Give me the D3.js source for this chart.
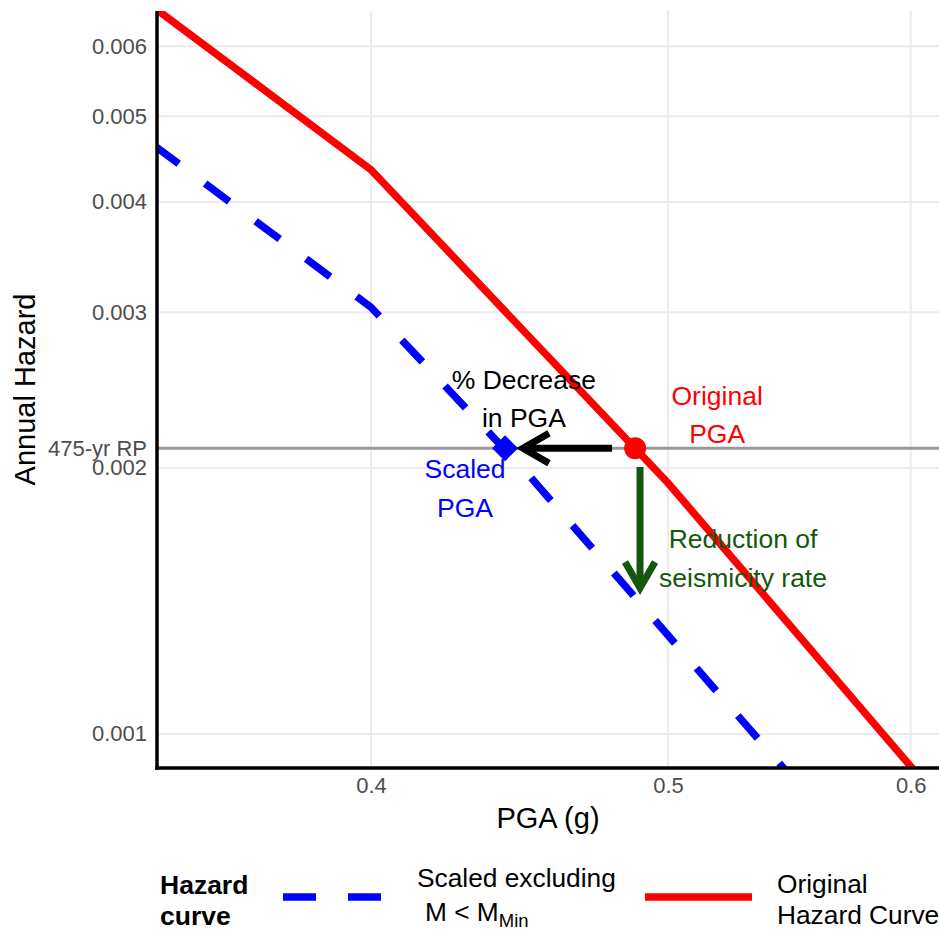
<!DOCTYPE html>
<html>
<head>
<meta charset="utf-8">
<script src="https://cdn.jsdelivr.net/npm/d3@7"></script>
<style>
  body { margin: 0; background: #fff; }
  svg text { font-family: "Liberation Sans", Arial, sans-serif; }
</style>
</head>
<body>
<svg id="chart"></svg>
<script>

// hazard curves (PGA in g, annual hazard)
const pgaLevels = [0.34, 0.4, 0.45, 0.5, 0.6, 0.62];
const originalHazard = [0.00663, 0.00435, 0.002826, 0.001923, 0.000919, 0.000805];
const scaledHazard = [0.00463, 0.00304, 0.001969, 0.001293, 0.000625, 0.000548];

// axis breaks
const xTicks = [0.4, 0.5, 0.6];
const yTicks = [0.001, 0.002, 0.003, 0.004, 0.005, 0.006];
const rpHazard = 1 / 475;
const rpLabel = "475-yr RP";

// points on the 475-yr line
const originalPGA = 0.4878;
const scaledPGA = 0.4424;

// arrows: [x1, y1, x2, y2] in data units
const decreaseArrow = [0.4794, rpHazard, 0.4484, rpHazard];
const rateArrow = [0.4896, 0.002005, 0.4896, 0.001463];

// annotations: two lines each, centred on (x, y)
const notes = [
	{lines: ["% Decrease", "in PGA"], x: 0.4487, y: 0.002397, color: "#000000"},
	{lines: ["Original", "PGA"], x: 0.5188, y: 0.002299, color: "#ff0000"},
	{lines: ["Scaled", "PGA"], x: 0.4293, y: 0.001898, color: "#0000ff"},
	{lines: ["Reduction of", "seismicity rate"], x: 0.5290, y: 0.001582, color: "#15570d"}
];

var width = 939;
var height = 932;
var panel = {left: 157, right: 939, top: 11, bottom: 768};

var svg = d3.select("#chart")
	.attr("width", width)
	.attr("height", height);

var x = d3.scaleLog()
	.domain([0.3406, 0.6129])
	.range([panel.left, panel.right]);

var y = d3.scaleLog()
	.domain([0.000915, 0.006579])
	.range([panel.bottom, panel.top]);

svg.append("defs").append("clipPath")
	.attr("id", "panel-clip")
	.append("rect")
	.attr("x", panel.left)
	.attr("y", panel.top)
	.attr("width", panel.right - panel.left)
	.attr("height", panel.bottom - panel.top);

// grid lines
var grid = svg.append("g").attr("stroke", "#ebebeb").attr("stroke-width", 2);
grid.selectAll("line.gx")
	.data(xTicks)
	.enter().append("line")
	.attr("x1", d => x(d)).attr("x2", d => x(d))
	.attr("y1", panel.top).attr("y2", panel.bottom);
grid.selectAll("line.gy")
	.data(yTicks)
	.enter().append("line")
	.attr("x1", panel.left).attr("x2", panel.right)
	.attr("y1", d => y(d)).attr("y2", d => y(d));

// 475-yr return period line
svg.append("line")
	.attr("x1", panel.left).attr("x2", panel.right)
	.attr("y1", y(rpHazard)).attr("y2", y(rpHazard))
	.attr("stroke", "#999999")
	.attr("stroke-width", 3);

// axes (labels only, the axis lines are drawn below)
var yAxis = svg.append("g")
	.attr("transform", "translate(" + panel.left + ",0)")
	.call(d3.axisLeft(y)
		.tickValues(yTicks.concat([rpHazard]))
		.tickFormat(d => d === rpHazard ? rpLabel : d3.format(".3f")(d))
		.tickSize(0)
		.tickPadding(10));

var xAxis = svg.append("g")
	.attr("transform", "translate(0," + panel.bottom + ")")
	.call(d3.axisBottom(x)
		.tickValues(xTicks)
		.tickFormat(d3.format(".1f"))
		.tickSize(0)
		.tickPadding(9));

[xAxis, yAxis].forEach(function(a) {
	a.select(".domain").remove();
	a.selectAll("text")
		.attr("font-size", 22)
		.attr("fill", "#4d4d4d")
		.style("font-family", "'Liberation Sans', Arial, sans-serif");
});

// curves
var line = d3.line()
	.x(d => x(d[0]))
	.y(d => y(d[1]));

var curves = svg.append("g").attr("clip-path", "url(#panel-clip)");

curves.append("path")
	.datum(d3.zip(pgaLevels, scaledHazard))
	.attr("d", line)
	.attr("fill", "none")
	.attr("stroke", "#0000ff")
	.attr("stroke-width", 7.5)
	.attr("stroke-dasharray", "30,33");

curves.append("path")
	.datum(d3.zip(pgaLevels, originalHazard))
	.attr("d", line)
	.attr("fill", "none")
	.attr("stroke", "#ff0000")
	.attr("stroke-width", 7.5);

// arrows with open heads
function drawArrow(a, color) {
	var x1 = x(a[0]), y1 = y(a[1]), x2 = x(a[2]), y2 = y(a[3]);
	var ang = Math.atan2(y2 - y1, x2 - x1);
	var len = 30, spread = Math.PI / 6;
	var g = svg.append("g")
		.attr("stroke", color)
		.attr("stroke-width", 7)
		.attr("fill", "none");
	g.append("line")
		.attr("x1", x1).attr("y1", y1)
		.attr("x2", x2).attr("y2", y2);
	g.append("path")
		.attr("stroke-linejoin", "miter")
		.attr("d", "M" + (x2 - len * Math.cos(ang - spread)) + "," + (y2 - len * Math.sin(ang - spread)) +
			"L" + x2 + "," + y2 +
			"L" + (x2 - len * Math.cos(ang + spread)) + "," + (y2 - len * Math.sin(ang + spread)));
}
drawArrow(decreaseArrow, "#000000");
drawArrow(rateArrow, "#15570d");

// markers
svg.append("circle")
	.attr("cx", x(originalPGA))
	.attr("cy", y(rpHazard))
	.attr("r", 11)
	.attr("fill", "#ff0000");

svg.append("path")
	.attr("transform", "translate(" + x(scaledPGA) + "," + y(rpHazard) + ")")
	.attr("d", "M0,-13L13,0L0,13L-13,0Z")
	.attr("fill", "#0000ff");

// text annotations
notes.forEach(function(n) {
	var t = svg.append("text")
		.attr("x", x(n.x))
		.attr("y", y(n.y))
		.attr("text-anchor", "middle")
		.attr("font-size", 26.5)
		.attr("fill", n.color);
	n.lines.forEach(function(s, i) {
		t.append("tspan")
			.attr("x", x(n.x))
			.attr("dy", i == 0 ? "-0.37em" : "1.45em")
			.text(s);
	});
});

// axis lines
svg.append("line")
	.attr("x1", panel.left).attr("x2", panel.left)
	.attr("y1", panel.top).attr("y2", panel.bottom + 1.75)
	.attr("stroke", "#000").attr("stroke-width", 3.5);
svg.append("line")
	.attr("x1", panel.left - 1.75).attr("x2", panel.right)
	.attr("y1", panel.bottom).attr("y2", panel.bottom)
	.attr("stroke", "#000").attr("stroke-width", 3.5);

// axis titles
svg.append("text")
	.attr("x", (panel.left + panel.right) / 2)
	.attr("y", 828)
	.attr("text-anchor", "middle")
	.attr("font-size", 29)
	.text("PGA (g)");

svg.append("text")
	.attr("transform", "translate(35," + (panel.top + panel.bottom) / 2 + ") rotate(-90)")
	.attr("text-anchor", "middle")
	.attr("font-size", 29)
	.text("Annual Hazard");

// legend
var legend = svg.append("g");
legend.append("text")
	.attr("x", 160).attr("y", 894)
	.attr("font-size", 26.5)
	.attr("font-weight", "bold")
	.selectAll("tspan")
	.data(["Hazard", "curve"])
	.enter().append("tspan")
	.attr("x", 160)
	.attr("dy", (d, i) => i == 0 ? 0 : 31)
	.text(d => d);

legend.append("line")
	.attr("x1", 283).attr("x2", 381)
	.attr("y1", 897).attr("y2", 897)
	.attr("stroke", "#0000ff")
	.attr("stroke-width", 7.5)
	.attr("stroke-dasharray", "33,32");

legend.append("text")
	.attr("x", 417).attr("y", 887)
	.attr("font-size", 26.3)
	.text("Scaled excluding");

var mmin = legend.append("text")
	.attr("x", 425).attr("y", 921)
	.attr("font-size", 26.3);
mmin.append("tspan").text("M < M");
mmin.append("tspan")
	.attr("font-size", 18.5)
	.attr("dy", 6)
	.text("Min");

legend.append("line")
	.attr("x1", 645).attr("x2", 752)
	.attr("y1", 897).attr("y2", 897)
	.attr("stroke", "#ff0000")
	.attr("stroke-width", 7.5);

legend.append("text")
	.attr("x", 777).attr("y", 893)
	.attr("font-size", 26.3)
	.selectAll("tspan")
	.data(["Original", "Hazard Curve"])
	.enter().append("tspan")
	.attr("x", 777)
	.attr("dy", (d, i) => i == 0 ? 0 : 31)
	.text(d => d);

</script>
</body>
</html>
